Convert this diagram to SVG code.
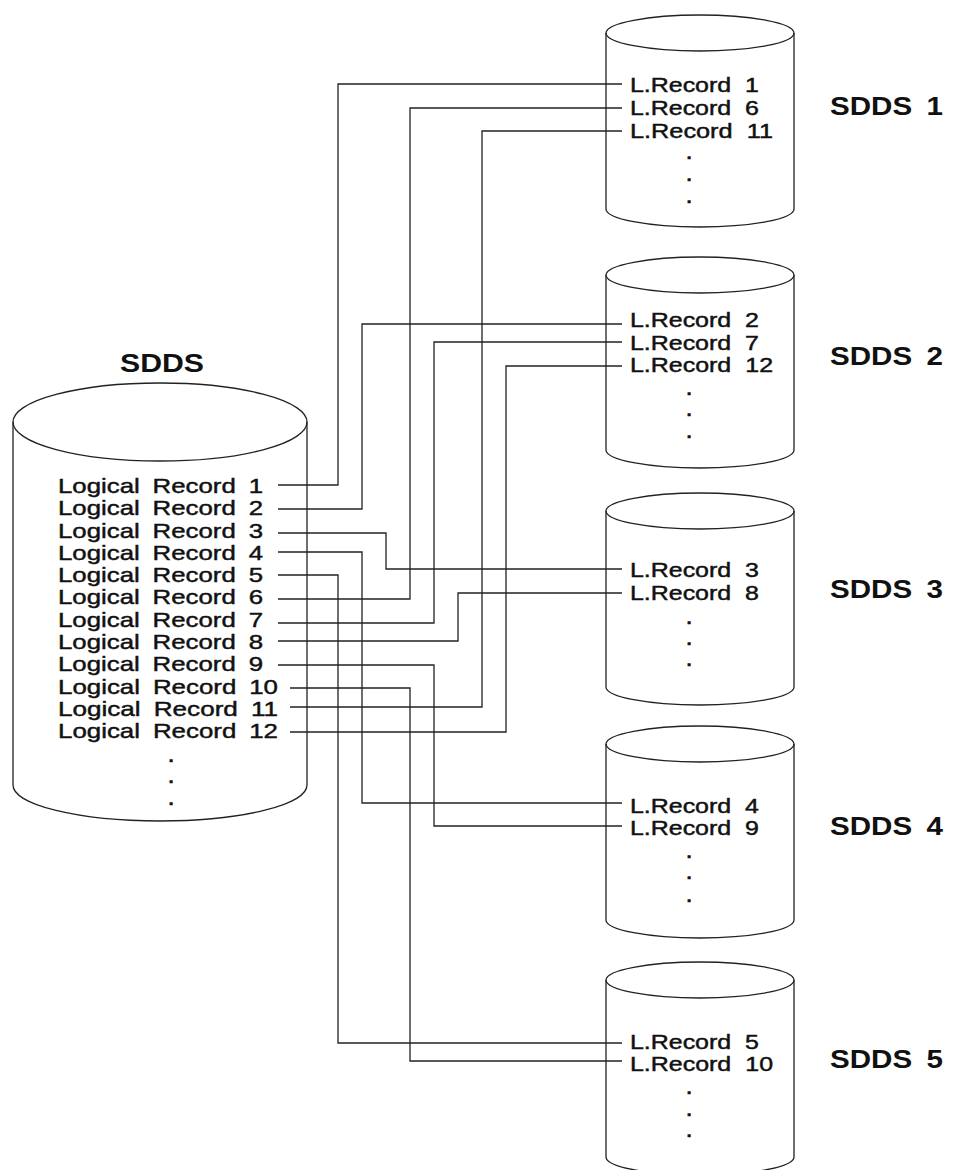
<svg xmlns="http://www.w3.org/2000/svg" width="953" height="1170" viewBox="0 0 953 1170">
<style>
.cyl{fill:none;stroke:#222;stroke-width:1.3}
.ln{fill:none;stroke:#222;stroke-width:1.3}
.t{font-family:"Liberation Sans",Arial,sans-serif;fill:#111;stroke:#111;stroke-width:0.45}
.lt{font-size:21px;word-spacing:4.7px}
.rt{font-size:20px;word-spacing:5.7px}
.dot{font-family:"Liberation Sans",Arial,sans-serif;font-size:17px;font-weight:bold;fill:#111;stroke:#111;stroke-width:0.7;text-anchor:middle}
.lbl{font-family:"Liberation Sans",Arial,sans-serif;font-size:25px;font-weight:bold;fill:#111;word-spacing:5.2px}
</style>
<rect width="953" height="1170" fill="#fff"/>

<g id="sdds-main">
  <text class="lbl" x="120" y="372" textLength="84" lengthAdjust="spacingAndGlyphs">SDDS</text>
  <ellipse class="cyl" cx="160" cy="422" rx="147" ry="39"/>
  <path class="cyl" d="M13 422 V785 A147 36 0 0 0 307 785 V422"/>
  <g class="t lt">
    <text x="58" y="493" textLength="205" lengthAdjust="spacingAndGlyphs">Logical Record 1</text>
    <text x="58" y="515.3" textLength="205" lengthAdjust="spacingAndGlyphs">Logical Record 2</text>
    <text x="58" y="537.5" textLength="205" lengthAdjust="spacingAndGlyphs">Logical Record 3</text>
    <text x="58" y="559.8" textLength="205" lengthAdjust="spacingAndGlyphs">Logical Record 4</text>
    <text x="58" y="582.1" textLength="205" lengthAdjust="spacingAndGlyphs">Logical Record 5</text>
    <text x="58" y="604.4" textLength="205" lengthAdjust="spacingAndGlyphs">Logical Record 6</text>
    <text x="58" y="626.6" textLength="205" lengthAdjust="spacingAndGlyphs">Logical Record 7</text>
    <text x="58" y="648.9" textLength="205" lengthAdjust="spacingAndGlyphs">Logical Record 8</text>
    <text x="58" y="671.2" textLength="205" lengthAdjust="spacingAndGlyphs">Logical Record 9</text>
    <text x="58" y="693.5" textLength="220" lengthAdjust="spacingAndGlyphs">Logical Record 10</text>
    <text x="58" y="715.7" textLength="220" lengthAdjust="spacingAndGlyphs">Logical Record 11</text>
    <text x="58" y="738" textLength="220" lengthAdjust="spacingAndGlyphs">Logical Record 12</text>
  </g>
  <text class="dot" x="171" y="762">.</text>
  <text class="dot" x="171" y="783">.</text>
  <text class="dot" x="171" y="805">.</text>
</g>

<g id="sdds1">
  <ellipse class="cyl" cx="700" cy="33" rx="94" ry="18"/>
  <path class="cyl" d="M606 33 V209 A94 18 0 0 0 794 209 V33"/>
  <g class="t rt">
    <text x="630" y="92" textLength="129" lengthAdjust="spacingAndGlyphs">L.Record 1</text>
    <text x="630" y="115" textLength="129" lengthAdjust="spacingAndGlyphs">L.Record 6</text>
    <text x="630" y="138" textLength="143" lengthAdjust="spacingAndGlyphs">L.Record 11</text>
  </g>
  <text class="dot" x="689" y="159">.</text>
  <text class="dot" x="689" y="181">.</text>
  <text class="dot" x="689" y="203">.</text>
  <text class="lbl" x="830" y="115" textLength="113" lengthAdjust="spacingAndGlyphs">SDDS 1</text>
</g>

<g id="sdds2">
  <ellipse class="cyl" cx="700" cy="275" rx="94" ry="18"/>
  <path class="cyl" d="M606 275 V450 A94 18 0 0 0 794 450 V275"/>
  <g class="t rt">
    <text x="630" y="327" textLength="129" lengthAdjust="spacingAndGlyphs">L.Record 2</text>
    <text x="630" y="350" textLength="129" lengthAdjust="spacingAndGlyphs">L.Record 7</text>
    <text x="630" y="372" textLength="143" lengthAdjust="spacingAndGlyphs">L.Record 12</text>
  </g>
  <text class="dot" x="689" y="395">.</text>
  <text class="dot" x="689" y="416">.</text>
  <text class="dot" x="689" y="438">.</text>
  <text class="lbl" x="830" y="365" textLength="113" lengthAdjust="spacingAndGlyphs">SDDS 2</text>
</g>

<g id="sdds3">
  <ellipse class="cyl" cx="700" cy="511" rx="94" ry="18"/>
  <path class="cyl" d="M606 511 V687 A94 18 0 0 0 794 687 V511"/>
  <g class="t rt">
    <text x="630" y="577" textLength="129" lengthAdjust="spacingAndGlyphs">L.Record 3</text>
    <text x="630" y="600" textLength="129" lengthAdjust="spacingAndGlyphs">L.Record 8</text>
  </g>
  <text class="dot" x="689" y="624">.</text>
  <text class="dot" x="689" y="645">.</text>
  <text class="dot" x="689" y="666">.</text>
  <text class="lbl" x="830" y="598" textLength="113" lengthAdjust="spacingAndGlyphs">SDDS 3</text>
</g>

<g id="sdds4">
  <ellipse class="cyl" cx="700" cy="744" rx="94" ry="18"/>
  <path class="cyl" d="M606 744 V920 A94 18 0 0 0 794 920 V744"/>
  <g class="t rt">
    <text x="630" y="813" textLength="129" lengthAdjust="spacingAndGlyphs">L.Record 4</text>
    <text x="630" y="835" textLength="129" lengthAdjust="spacingAndGlyphs">L.Record 9</text>
  </g>
  <text class="dot" x="689" y="858">.</text>
  <text class="dot" x="689" y="879">.</text>
  <text class="dot" x="689" y="902">.</text>
  <text class="lbl" x="830" y="835" textLength="113" lengthAdjust="spacingAndGlyphs">SDDS 4</text>
</g>

<g id="sdds5">
  <ellipse class="cyl" cx="700" cy="980" rx="94" ry="18"/>
  <path class="cyl" d="M606 980 V1157 A94 18 0 0 0 794 1157 V980"/>
  <g class="t rt">
    <text x="630" y="1049" textLength="129" lengthAdjust="spacingAndGlyphs">L.Record 5</text>
    <text x="630" y="1071" textLength="143" lengthAdjust="spacingAndGlyphs">L.Record 10</text>
  </g>
  <text class="dot" x="689" y="1094">.</text>
  <text class="dot" x="689" y="1116">.</text>
  <text class="dot" x="689" y="1137">.</text>
  <text class="lbl" x="830" y="1068" textLength="113" lengthAdjust="spacingAndGlyphs">SDDS 5</text>
</g>

<g id="connectors" class="ln">
  <path d="M278 485 H338 V84 H622"/>
  <path d="M278 509 H362 V324 H622"/>
  <path d="M278 533 H386 V569 H622"/>
  <path d="M278 552 H362 V803 H622"/>
  <path d="M278 575 H338 V1043 H622"/>
  <path d="M278 599 H410 V108 H622"/>
  <path d="M278 623 H434 V342 H622"/>
  <path d="M278 641 H458 V593 H622"/>
  <path d="M278 665 H434 V826 H622"/>
  <path d="M290 688 H410 V1061 H622"/>
  <path d="M290 707 H482 V131 H622"/>
  <path d="M290 732 H506 V366 H622"/>
</g>
</svg>
